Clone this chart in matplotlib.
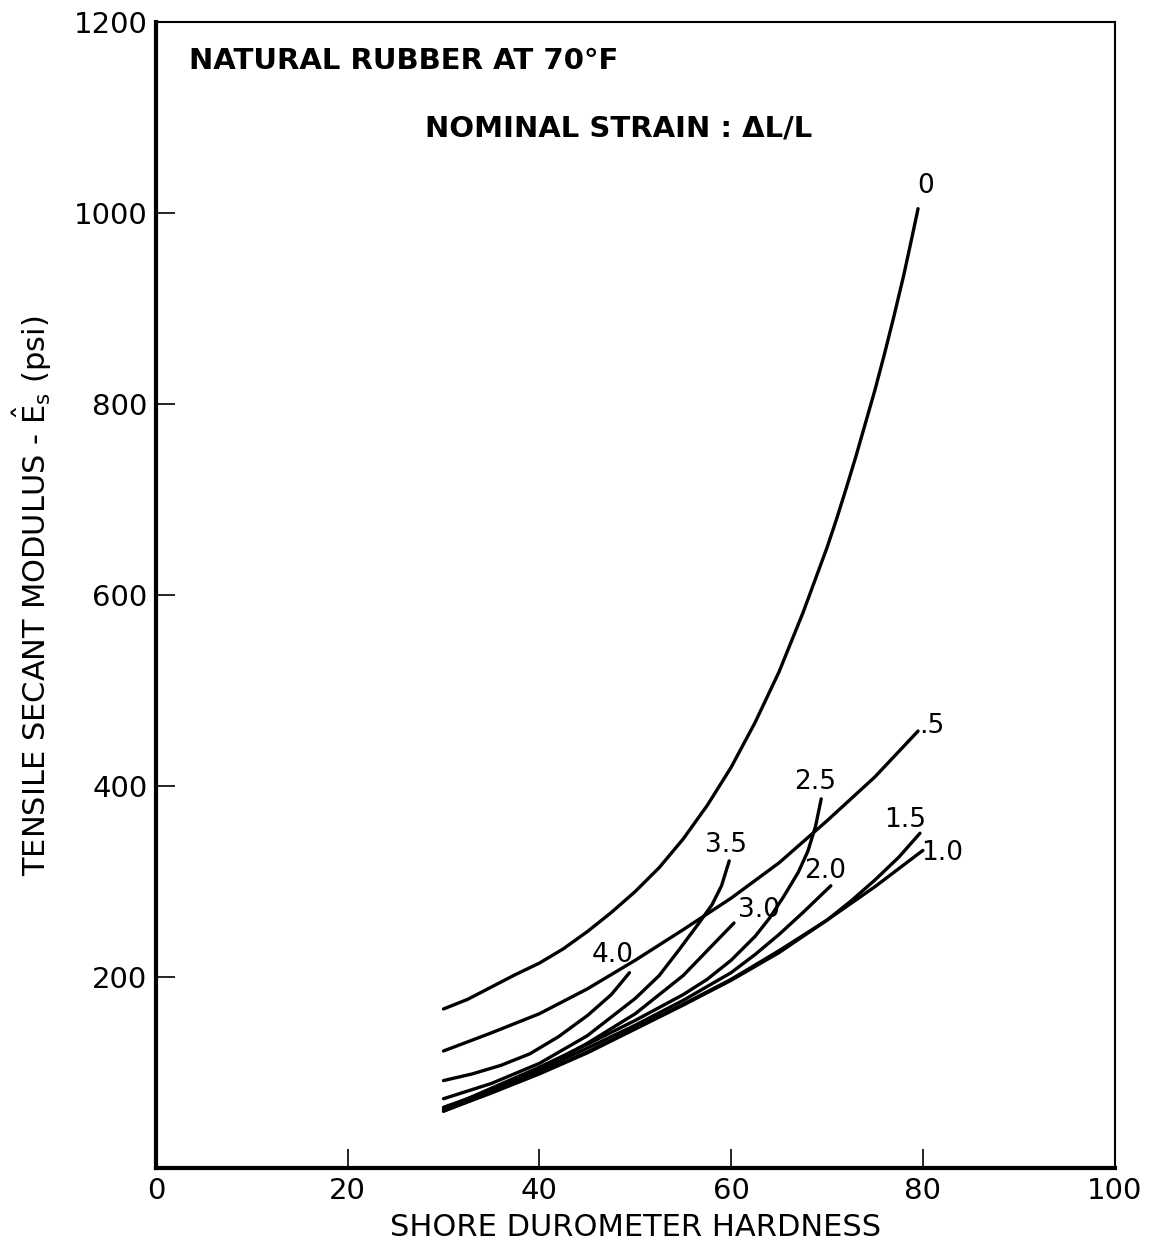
import matplotlib.pyplot as plt

plt.rcParams['font.family'] = ['DejaVu Sans']
plt.rcParams['mathtext.fontset'] = 'dejavusans'

# shore hardness vs secant modulus, one curve per nominal strain
x_0 = [30, 32.5, 35, 37.5, 40, 42.5, 45, 47.5, 50, 52.5, 55, 57.5, 60, 62.5, 65, 67.5,
       70, 71, 72, 73, 74, 75, 76, 77, 78, 78.8, 79.5]
y_0 = [167, 177, 190, 203, 215, 230, 248, 268, 290, 315, 345, 380, 420, 467, 520, 582,
       650, 680, 712, 745, 780, 815, 853, 893, 935, 972, 1005]

x_05 = [30, 35, 40, 45, 50, 55, 60, 65, 70, 75, 79.5]
y_05 = [123, 142, 162, 188, 218, 250, 283, 320, 364, 410, 458]

x_10 = [30, 35, 40, 45, 50, 55, 60, 65, 70, 75, 80]
y_10 = [60, 80, 100, 122, 147, 172, 198, 228, 260, 295, 333]

x_15 = [30, 35, 40, 45, 50, 55, 60, 65, 70, 72.5, 75, 77.5, 79.7]
y_15 = [60, 79, 99, 121, 146, 171, 197, 226, 260, 280, 302, 326, 351]

x_20 = [30, 35, 40, 45, 50, 55, 60, 62.5, 65, 67.5, 70.4]
y_20 = [62, 82, 103, 126, 150, 176, 205, 224, 245, 268, 296]

x_25 = [30, 35, 40, 45, 50, 55, 57.5, 60, 62.5, 64, 65.5, 67, 68, 68.8, 69.4]
y_25 = [62, 84, 106, 130, 155, 182, 198, 218, 243, 262, 285, 310, 332, 358, 387]

x_30 = [30, 35, 40, 45, 50, 55, 57.5, 60.3]
y_30 = [64, 82, 104, 131, 162, 202, 228, 257]

x_35 = [30, 35, 40, 45, 50, 52.5, 54.5, 56.5, 58, 59, 59.8]
y_35 = [73, 89, 110, 139, 178, 202, 228, 255, 276, 296, 322]

x_40 = [30, 33, 36, 39, 42, 45, 47.5, 49.4]
y_40 = [92, 99, 108, 120, 138, 160, 182, 205]

curves = [(x_0, y_0), (x_05, y_05), (x_10, y_10), (x_15, y_15), (x_20, y_20),
          (x_25, y_25), (x_30, y_30), (x_35, y_35), (x_40, y_40)]

strain_labels = ['0', '.5', '1.0', '1.5', '2.0', '2.5', '3.0', '3.5', '4.0']
label_x = [80.3, 80.9, 82.0, 78.1, 69.8, 68.8, 62.9, 59.5, 47.6]
label_y = [1029, 463, 330, 365, 311, 405, 271, 339, 224]

x_ticks = [0, 20, 40, 60, 80, 100]
y_ticks = [200, 400, 600, 800, 1000, 1200]

fig = plt.figure(figsize=(11.55, 12.47), dpi=100)
ax = fig.add_axes([0.135, 0.063, 0.83, 0.919])

for xs, ys in curves:
    ax.plot(xs, ys, color='black', lw=2.4, solid_capstyle='round',
            solid_joinstyle='round')

for s, lx, ly in zip(strain_labels, label_x, label_y):
    ax.text(lx, ly, s, fontsize=19, ha='center', va='center')

ax.text(3.5, 1160, 'NATURAL RUBBER AT 70°F', fontsize=21, fontweight='bold',
        va='center', ha='left')
ax.text(28.1, 1089, 'NOMINAL STRAIN : ΔL/L', fontsize=21, fontweight='bold',
        va='center', ha='left')

ax.set_xlim(0, 100)
ax.set_ylim(0, 1200)
ax.set_xticks(x_ticks)
ax.set_yticks(y_ticks)
ax.tick_params(direction='in', length=14, width=1.2, labelsize=21, pad=6)

for side in ['left', 'bottom']:
    ax.spines[side].set_linewidth(3)
for side in ['top', 'right']:
    ax.spines[side].set_linewidth(1.5)

ax.set_xlabel('SHORE DUROMETER HARDNESS', fontsize=22, labelpad=6)
ax.set_ylabel(r'TENSILE SECANT MODULUS - $\hat{\mathrm{E}}_\mathrm{s}$ (psi)',
              fontsize=22, labelpad=14)

fig.savefig('out.png', dpi=100)
